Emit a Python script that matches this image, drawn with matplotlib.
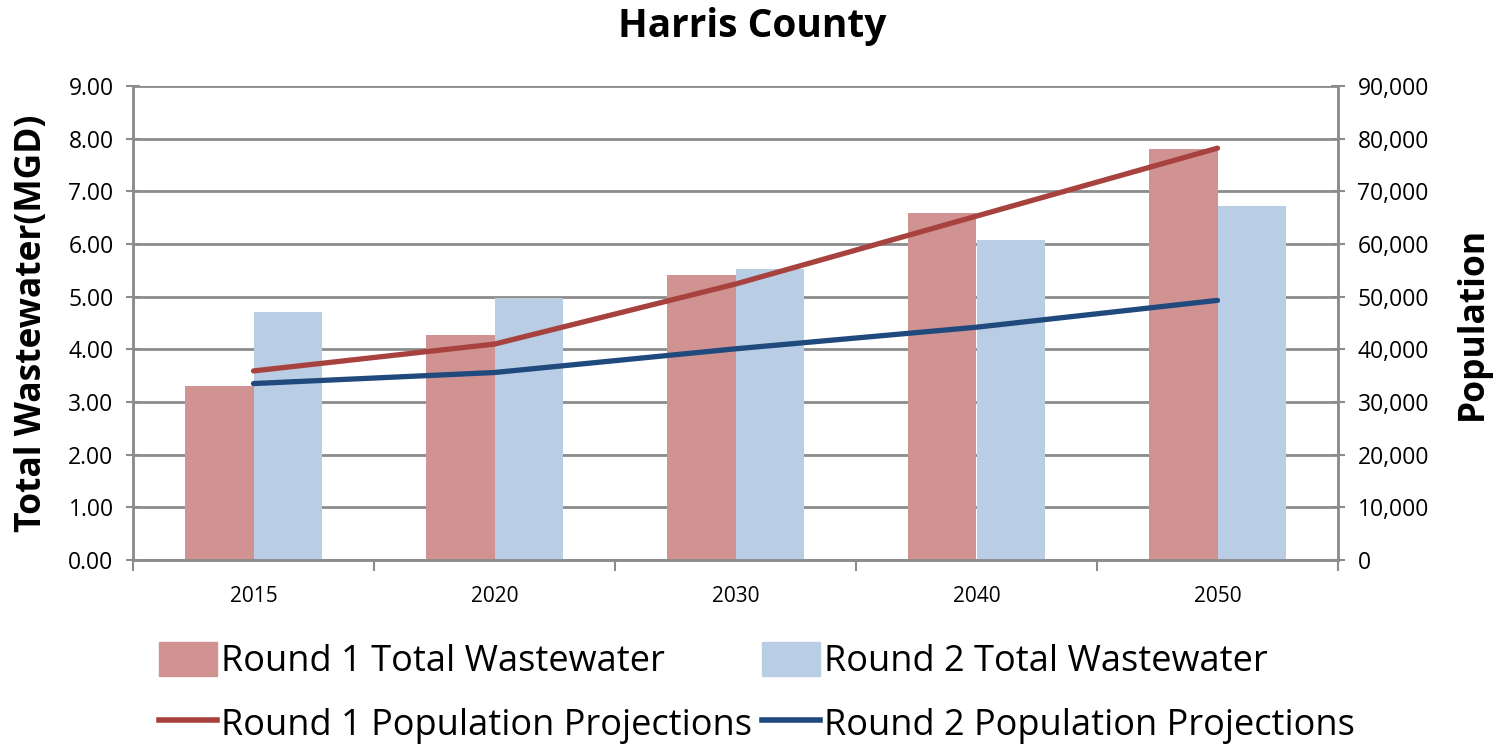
import matplotlib
matplotlib.use("Agg")
import matplotlib.pyplot as plt
import numpy as np
from matplotlib.ticker import FuncFormatter, FixedLocator
from matplotlib.patches import Patch
from matplotlib.lines import Line2D

years = ["2015", "2020", "2030", "2040", "2050"]
r1_wastewater = [3.30, 4.27, 5.41, 6.59, 7.80]
r2_wastewater = [4.70, 4.98, 5.52, 6.08, 6.72]
r1_population = [35900, 41000, 52400, 65300, 78200]
r2_population = [33500, 35600, 40100, 44200, 49300]

c_r1bar = "#D19391"
c_r2bar = "#B9CDE4"
c_r1line = "#A8423F"
c_r2line = "#204A7E"
grid_c = "#8C8C8C"

plt.rcParams['font.family'] = ['Open Sans', 'DejaVu Sans']

fig = plt.figure(figsize=(15.05, 7.48), dpi=100)
ax = fig.add_axes([133/1505, 1-560/748, (1338-133)/1505, (560-86)/748])
ax2 = ax.twinx()

x = np.arange(len(years))
w = 0.283
ax.bar(x - w/2, r1_wastewater, w, color=c_r1bar, zorder=2)
ax.bar(x + w/2, r2_wastewater, w, color=c_r2bar, zorder=2)
ax.set_xlim(-0.5, len(years) - 0.5)
ax.set_ylim(0, 9)
ax.set_yticks(np.arange(0, 9.01, 1))
ax.yaxis.set_major_formatter(FuncFormatter(lambda v, p: f"{v:.2f}"))
ax.grid(axis='y', color=grid_c, linewidth=2, zorder=0)
ax.set_axisbelow(True)

ax2.plot(x, r1_population, color=c_r1line, linewidth=3.8, solid_capstyle='round', zorder=3)
ax2.plot(x, r2_population, color=c_r2line, linewidth=3.8, solid_capstyle='round', zorder=3)
ax2.set_ylim(0, 90000)
ax2.set_yticks(np.arange(0, 90001, 10000))
ax2.yaxis.set_major_formatter(FuncFormatter(lambda v, p: f"{int(v):,}"))

for a in (ax, ax2):
    for s in a.spines.values():
        s.set_color(grid_c)
        s.set_linewidth(1.8)
    a.spines['top'].set_visible(False)

ax.set_xticks(x)
ax.set_xticklabels(years, fontsize=15)
ax.xaxis.set_minor_locator(FixedLocator(np.arange(-0.5, len(years), 1)))
ax.tick_params(axis='x', which='major', length=0, pad=19)
ax.tick_params(axis='x', which='minor', length=8, width=1.5, color=grid_c)
ax.tick_params(axis='y', direction='inout', length=10, width=1.5, color=grid_c, labelsize=16.5, pad=9)
ax2.tick_params(axis='y', direction='inout', length=10, width=1.5, color=grid_c, labelsize=16.5, pad=9)

ax.set_ylabel("Total Wastewater(MGD)", fontsize=25.5, fontweight='bold', labelpad=13)
ax2.set_ylabel("Population", fontsize=25.5, fontweight='bold', labelpad=19)

fig.text(752/1505, 1-27/748, "Harris County", ha='center', va='center', fontsize=28, fontweight='bold')

handles = [Patch(color=c_r1bar), Line2D([], [], color=c_r1line, linewidth=4),
           Patch(color=c_r2bar), Line2D([], [], color=c_r2line, linewidth=4)]
labels = ["Round 1 Total Wastewater", "Round 1 Population Projections",
          "Round 2 Total Wastewater", "Round 2 Population Projections"]
fig.legend(handles, labels, ncol=2, loc='center', bbox_to_anchor=(757/1505, 1-693/748),
           frameon=False, fontsize=26, handlelength=1.6, handleheight=1.1, handletextpad=0.1,
           columnspacing=0.3, labelspacing=0.7)

fig.savefig("out.png", dpi=100)
